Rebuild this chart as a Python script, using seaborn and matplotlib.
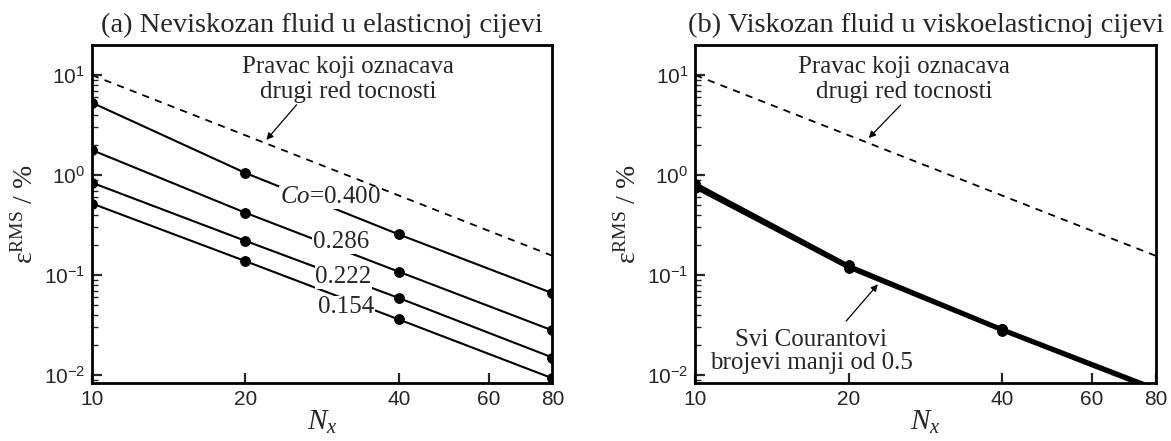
import numpy as np
import pandas as pd
import matplotlib
matplotlib.use("Agg")
import matplotlib.pyplot as plt
from matplotlib.ticker import FixedLocator, FuncFormatter, LogLocator, NullLocator
import seaborn as sns

# grid sizes
nx = [10, 20, 40, 80]

# (a) inviscid fluid, elastic pipe - one curve per Courant number
co_labels = ["0.400", "0.286", "0.222", "0.154"]
err_a = {
    "0.400": [5.3, 1.05, 0.255, 0.066],
    "0.286": [1.78, 0.42, 0.108, 0.028],
    "0.222": [0.84, 0.22, 0.059, 0.015],
    "0.154": [0.52, 0.138, 0.036, 0.0093],
}

# (b) viscous fluid, viscoelastic pipe - curves almost on top of each other
err_b = [
    [0.82, 0.125, 0.0290, 0.0074],
    [0.79, 0.122, 0.0286, 0.0072],
    [0.77, 0.120, 0.0282, 0.0071],
    [0.75, 0.118, 0.0278, 0.0070],
]

# second order reference line
ref_x = [10, 80]
ref_y = [10.0, 0.156]

sns.set_theme(style="white")
plt.rcParams.update({
    "font.family": ["Liberation Serif", "DejaVu Serif"],
    "mathtext.fontset": "custom",
    "mathtext.rm": "Liberation Serif",
    "mathtext.it": "Liberation Serif:italic",
    "mathtext.sf": "Liberation Sans",
    "axes.edgecolor": "black",
    "axes.linewidth": 2.0,
})

fig, axes = plt.subplots(1, 2, figsize=(11.71, 4.41), dpi=100)
fig.subplots_adjust(left=0.0785, right=0.987, bottom=0.131, top=0.898, wspace=0.31)


def style_axis(ax, title):
    ax.set_xscale("log")
    ax.set_yscale("log")
    ax.set_xlim(10, 80)
    ax.set_ylim(0.0083, 20)
    ax.xaxis.set_major_locator(FixedLocator([10, 20, 40, 60, 80]))
    ax.xaxis.set_minor_locator(NullLocator())
    ax.xaxis.set_major_formatter(FuncFormatter(lambda v, p: "%d" % v))
    ax.yaxis.set_major_locator(LogLocator(base=10))
    ax.yaxis.set_minor_locator(LogLocator(base=10, subs=np.arange(2, 10)))
    ax.yaxis.set_major_formatter(
        FuncFormatter(lambda v, p: r"$\mathsf{10^{%d}}$" % round(np.log10(v))))
    ax.tick_params(which="major", direction="in", length=7, width=1.6,
                   labelsize=15, pad=5)
    ax.tick_params(which="minor", direction="in", length=4, width=1.0)
    ax.tick_params(axis="y", which="both", left=True, right=False)
    ax.tick_params(axis="x", which="both", bottom=True, top=False)
    for lab in ax.get_xticklabels() + ax.get_yticklabels():
        lab.set_family("Liberation Sans")
    ax.set_xlabel(r"$N_x$", fontsize=21, labelpad=0)
    ax.set_ylabel(r"ε$^{\mathrm{RMS}}$ / %", fontsize=20, labelpad=4)
    ax.set_title(title, fontsize=20.5, pad=9)
    for s in ax.spines.values():
        s.set_visible(True)
        s.set_linewidth(2.0)
    sns.lineplot(x=ref_x, y=ref_y, ax=ax, color="black", lw=1.3,
                 linestyle=(0, (4, 3.5)))


# panel (a)
ax = axes[0]
for co in co_labels:
    sns.lineplot(x=nx, y=err_a[co], ax=ax, color="black", lw=1.5,
                 marker="o", markersize=7, markeredgecolor="black")
style_axis(ax, "(a) Neviskozan fluid u elasticnoj cijevi")

label_pos = {"0.400": (29.3, 0.60), "0.286": (30.8, 0.214),
             "0.222": (31.1, 0.0955), "0.154": (31.5, 0.0479)}
for co in co_labels:
    txt = (r"$\mathit{Co}$=" + co) if co == "0.400" else co
    ax.text(*label_pos[co], txt, fontsize=18, ha="center", va="center",
            bbox=dict(facecolor="white", edgecolor="none", pad=0.3), zorder=5)

ax.text(31.8, 9.0, "Pravac koji oznacava\ndrugi red tocnosti", fontsize=18,
        ha="center", va="center", linespacing=1.15)
ax.annotate("", xy=(21.8, 2.14), xytext=(25.4, 5.3),
            arrowprops=dict(arrowstyle="-|>", color="black", lw=0.9,
                            mutation_scale=10))

# panel (b)
ax = axes[1]
for yb in err_b:
    sns.lineplot(x=nx, y=yb, ax=ax, color="black", lw=2.4,
                 marker="o", markersize=7, markeredgecolor="black")
style_axis(ax, "(b) Viskozan fluid u viskoelasticnoj cijevi")

ax.text(25.7, 9.0, "Pravac koji oznacava\ndrugi red tocnosti", fontsize=18,
        ha="center", va="center", linespacing=1.15)
ax.annotate("", xy=(21.7, 2.24), xytext=(25.5, 5.25),
            arrowprops=dict(arrowstyle="-|>", color="black", lw=0.9,
                            mutation_scale=10))

ax.text(16.9, 0.0172, "Svi Courantovi\nbrojevi manji od 0.5", fontsize=18,
        ha="center", va="center", linespacing=1.1)
ax.annotate("", xy=(23.0, 0.085), xytext=(19.6, 0.033),
            arrowprops=dict(arrowstyle="-|>", color="black", lw=0.9,
                            mutation_scale=10))

fig.savefig("out.png", dpi=100)
